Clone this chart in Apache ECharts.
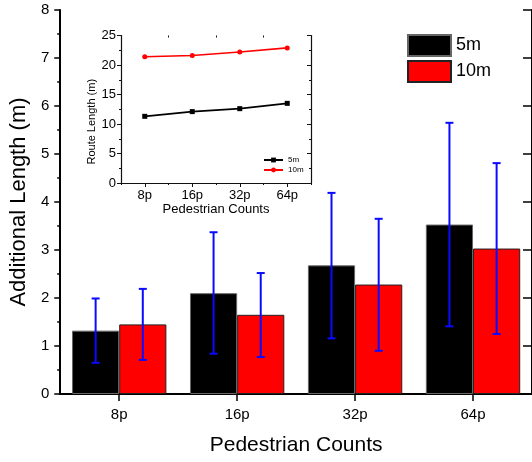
<!DOCTYPE html>
<html>
<head>
<meta charset="utf-8">
<script src="https://cdn.jsdelivr.net/npm/echarts@6/dist/echarts.min.js"></script>
<style>
html,body{margin:0;padding:0;background:#fff;}
#chart{width:532px;height:462px;}
</style>
</head>
<body>
<div id="chart"></div>
<script>
// ---- data ----
const categories = ['8p', '16p', '32p', '64p'];
const seriesNames = ['5m', '10m'];
const bar5m = [1.32, 2.10, 2.68, 3.53];
const bar10m = [1.45, 1.65, 2.28, 3.03];
const err5mLow = [0.65, 0.84, 1.16, 1.41];
const err5mHigh = [1.99, 3.37, 4.19, 5.65];
const err10mLow = [0.71, 0.77, 0.90, 1.25];
const err10mHigh = [2.19, 2.52, 3.65, 4.81];
const route5m = [11.3, 12.1, 12.6, 13.5];
const route10m = [21.4, 21.6, 22.2, 22.9];
const mainYTicks = [0, 8, 1];   // min, max, interval
const insetYTicks = [0, 25, 5];

const FONT = 'Liberation Sans, Arial, sans-serif';
const chart = echarts.init(document.getElementById('chart'), null, {renderer: 'canvas'});

function errRender(sign) {
  return function (params, api) {
    const i = api.value(0);
    const lo = api.coord([i, api.value(1)]);
    const hi = api.coord([i, api.value(2)]);
    const band = api.size([1, 0])[0];
    const x = lo[0] + sign * band * 0.2;
    const cap = 4;
    const style = {stroke: '#0a0aff', lineWidth: 2};
    return {
      type: 'group',
      children: [
        {type: 'line', shape: {x1: x, y1: lo[1], x2: x, y2: hi[1]}, style: style},
        {type: 'line', shape: {x1: x - cap, y1: hi[1], x2: x + cap, y2: hi[1]}, style: style},
        {type: 'line', shape: {x1: x - cap, y1: lo[1], x2: x + cap, y2: lo[1]}, style: style}
      ]
    };
  };
}

const axisLineMain = {show: true, lineStyle: {color: '#000', width: 2}};
const axisLineInset = {show: true, lineStyle: {color: '#111', width: 1.2}};
const insetNameMap = {inset5m: '5m', inset10m: '10m'};

const option = {
  backgroundColor: '#fff',
  animation: false,
  textStyle: {fontFamily: FONT},
  grid: [
    {left: 60, top: 10, width: 476, height: 384, containLabel: false},
    {left: 121, top: 35.5, width: 190, height: 147.5, show: true, backgroundColor: '#fff', borderWidth: 0, z: 5}
  ],
  legend: [
    {
      data: seriesNames, orient: 'vertical', left: 407, top: 34, padding: 0,
      itemWidth: 43, itemHeight: 21, itemGap: 3, icon: 'rect',
      textStyle: {fontSize: 18, color: '#000', fontFamily: FONT}, selectedMode: false
    },
    {
      data: ['inset5m', 'inset10m'], orient: 'vertical', left: 263, top: 156, padding: 0,
      itemWidth: 19, itemHeight: 6, itemGap: 2, z: 10,
      formatter: function (n) { return insetNameMap[n]; },
      textStyle: {fontSize: 8, color: '#000', fontFamily: FONT}, selectedMode: false
    }
  ],
  xAxis: [
    {
      type: 'category', gridIndex: 0, data: categories, position: 'bottom',
      axisLine: axisLineMain,
      axisTick: {show: true, alignWithLabel: true, length: 6, lineStyle: {color: '#000', width: 1.5}},
      axisLabel: {fontSize: 15, color: '#000', margin: 13, fontFamily: FONT},
      name: 'Pedestrian Counts', nameLocation: 'middle', nameGap: 41,
      nameTextStyle: {fontSize: 21, color: '#000', fontFamily: FONT},
      splitLine: {show: false}
    },
    {
      type: 'category', gridIndex: 0, data: categories, position: 'top',
      axisLine: axisLineMain,
      axisTick: {show: true, inside: true, alignWithLabel: true, length: 7, lineStyle: {color: '#000', width: 1.5}},
      axisLabel: {show: false}, splitLine: {show: false}
    },
    {
      type: 'category', gridIndex: 1, data: categories, position: 'bottom',
      axisLine: axisLineInset,
      axisTick: {show: true, alignWithLabel: true, length: 4, lineStyle: {color: '#111', width: 1}},
      axisLabel: {fontSize: 13, color: '#000', margin: 6, fontFamily: FONT},
      name: 'Pedestrian Counts', nameLocation: 'middle', nameGap: 19,
      nameTextStyle: {fontSize: 13, color: '#000', fontFamily: FONT},
      splitLine: {show: false}, z: 6
    },
    {
      type: 'category', gridIndex: 1, data: categories, position: 'top',
      axisLine: axisLineInset,
      axisTick: {show: true, inside: true, alignWithLabel: true, length: 4, lineStyle: {color: '#111', width: 1}},
      axisLabel: {show: false}, splitLine: {show: false}, z: 6
    },
    {
      type: 'category', gridIndex: 1, data: categories, position: 'bottom',
      axisLine: {show: false},
      axisTick: {show: true, alignWithLabel: false, length: 2, lineStyle: {color: '#111', width: 1}},
      axisLabel: {show: false}, splitLine: {show: false}, z: 6
    },
    {
      type: 'category', gridIndex: 1, data: categories, position: 'top',
      axisLine: {show: false},
      axisTick: {show: true, inside: true, alignWithLabel: false, length: 2, lineStyle: {color: '#111', width: 1}},
      axisLabel: {show: false}, splitLine: {show: false}, z: 6
    }
  ],
  yAxis: [
    {
      type: 'value', gridIndex: 0, min: mainYTicks[0], max: mainYTicks[1], interval: mainYTicks[2], position: 'left',
      axisLine: axisLineMain,
      axisTick: {show: true, length: 6, lineStyle: {color: '#000', width: 1.5}},
      minorTick: {show: true, splitNumber: 2, length: 3, lineStyle: {color: '#000', width: 1.5}},
      axisLabel: {fontSize: 15, color: '#000', margin: 11, fontFamily: FONT},
      name: 'Additional Length (m)', nameLocation: 'middle', nameGap: 27, nameRotate: 90,
      nameTextStyle: {fontSize: 22, color: '#000', fontFamily: FONT},
      splitLine: {show: false}
    },
    {
      type: 'value', gridIndex: 0, min: mainYTicks[0], max: mainYTicks[1], interval: mainYTicks[2], position: 'right',
      axisLine: axisLineMain,
      axisTick: {show: true, inside: true, length: 9, lineStyle: {color: '#000', width: 1.5}},
      axisLabel: {show: false}, splitLine: {show: false}
    },
    {
      type: 'value', gridIndex: 1, min: insetYTicks[0], max: insetYTicks[1], interval: insetYTicks[2], position: 'left',
      axisLine: axisLineInset,
      axisTick: {show: true, length: 4, lineStyle: {color: '#111', width: 1}},
      minorTick: {show: true, splitNumber: 2, length: 2, lineStyle: {color: '#111', width: 1}},
      axisLabel: {fontSize: 13, color: '#000', margin: 5, fontFamily: FONT},
      name: 'Route Length (m)', nameLocation: 'middle', nameGap: 24, nameRotate: 90,
      nameTextStyle: {fontSize: 11, color: '#000', fontFamily: FONT, padding: [0, 25, 0, 0]},
      splitLine: {show: false}, z: 6
    },
    {
      type: 'value', gridIndex: 1, min: insetYTicks[0], max: insetYTicks[1], interval: insetYTicks[2], position: 'right',
      axisLine: axisLineInset,
      axisTick: {show: true, inside: true, length: 4, lineStyle: {color: '#111', width: 1}},
      minorTick: {show: true, splitNumber: 2, length: 2, lineStyle: {color: '#111', width: 1}},
      axisLabel: {show: false}, splitLine: {show: false}, z: 6
    }
  ],
  series: [
    {
      name: '5m', type: 'bar', xAxisIndex: 0, yAxisIndex: 0, data: bar5m,
      barGap: '0%', barCategoryGap: '20%',
      itemStyle: {color: '#000', borderColor: '#666', borderWidth: 1}
    },
    {
      name: '10m', type: 'bar', xAxisIndex: 0, yAxisIndex: 0, data: bar10m,
      barGap: '0%', barCategoryGap: '20%',
      itemStyle: {color: '#ff0000', borderColor: '#222', borderWidth: 1}
    },
    {
      type: 'custom', xAxisIndex: 0, yAxisIndex: 0, z: 5,
      renderItem: errRender(-1),
      encode: {x: 0, y: [1, 2]},
      data: categories.map((c, i) => [i, err5mLow[i], err5mHigh[i]])
    },
    {
      type: 'custom', xAxisIndex: 0, yAxisIndex: 0, z: 5,
      renderItem: errRender(1),
      encode: {x: 0, y: [1, 2]},
      data: categories.map((c, i) => [i, err10mLow[i], err10mHigh[i]])
    },
    {
      name: 'inset5m', type: 'line', xAxisIndex: 2, yAxisIndex: 2, data: route5m, z: 7,
      symbol: 'rect', symbolSize: 5, showSymbol: true,
      lineStyle: {color: '#000', width: 1.6}, itemStyle: {color: '#000'}
    },
    {
      name: 'inset10m', type: 'line', xAxisIndex: 2, yAxisIndex: 2, data: route10m, z: 7,
      symbol: 'circle', symbolSize: 5, showSymbol: true,
      lineStyle: {color: '#ff0000', width: 1.6}, itemStyle: {color: '#ff0000'}
    }
  ]
};
chart.setOption(option);
</script>
</body>
</html>
